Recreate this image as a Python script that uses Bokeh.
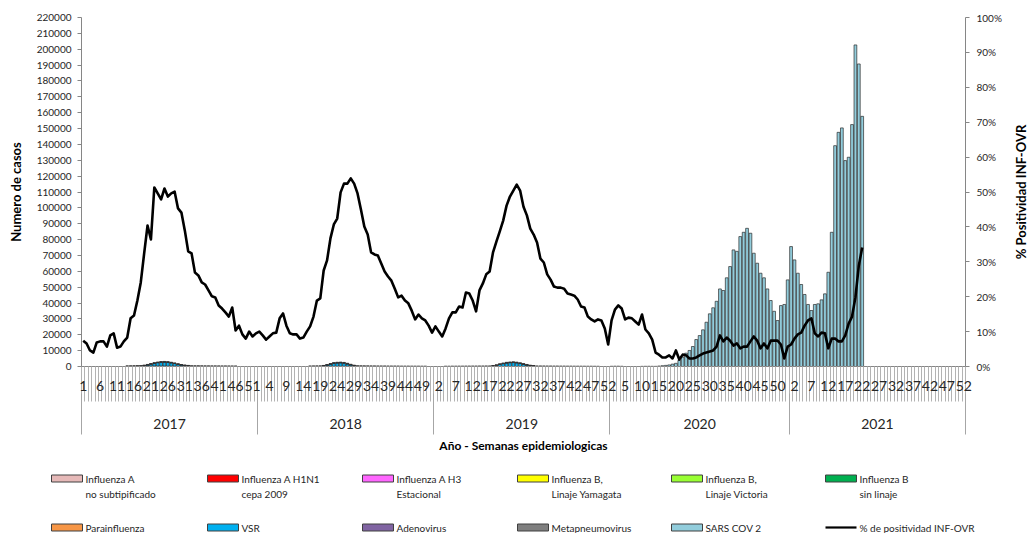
import numpy as np
from bokeh.plotting import figure
from bokeh.models import (Range1d, LinearAxis, FixedTicker, NumeralTickFormatter, PrintfTickFormatter)
from bokeh.layouts import column, row
from bokeh.embed import file_html
from bokeh.resources import INLINE
from bokeh.core.properties import value

# ---------------- data ----------------
years = ["2017", "2018", "2019", "2020", "2021"]
weeks_per_year = [52, 52, 52, 53, 52]

# % de positividad INF-OVR (weekly)
positividad_2017 = [7.4, 6.6, 4.6, 4.0, 6.9, 7.2, 7.2, 5.7, 8.9, 9.5, 5.4, 5.7, 7.2, 8.3, 13.8, 14.6, 18.9, 24.1,
                    32.4, 40.4, 36.4, 51.3, 49.6, 47.9, 51.0, 48.7, 49.6, 50.1, 45.3, 44.1, 39.0, 33.0, 32.4, 26.9,
                    26.1, 24.1, 23.5, 21.8, 20.1, 19.8, 17.5, 16.6, 15.5, 14.3, 16.9, 10.3, 11.7, 9.2, 8.0, 10.0,
                    8.6, 9.5]
positividad_2018 = [10.0, 8.9, 7.7, 8.6, 9.5, 9.7, 13.8, 15.2, 11.7, 9.5, 9.2, 9.2, 8.0, 8.3, 10.0, 11.5, 14.3,
                    18.9, 19.5, 27.5, 30.4, 36.7, 40.7, 42.4, 49.9, 52.4, 52.4, 53.9, 52.4, 49.6, 45.0, 40.1, 37.8,
                    32.7, 32.1, 31.8, 29.5, 27.2, 25.8, 24.6, 22.3, 19.8, 20.3, 18.9, 18.1, 16.0, 13.5, 14.9, 13.8,
                    13.2, 11.7, 9.7]
positividad_2019 = [11.5, 10.0, 8.6, 10.9, 13.8, 15.5, 15.5, 17.2, 16.9, 21.2, 20.9, 18.9, 15.8, 21.8, 23.8, 26.4,
                    27.2, 32.7, 35.8, 38.7, 41.8, 46.1, 48.7, 50.4, 52.1, 50.4, 45.8, 43.3, 39.5, 37.8, 35.5, 30.9,
                    29.8, 26.4, 24.9, 22.9, 22.6, 22.6, 22.3, 20.9, 20.6, 20.3, 19.2, 17.2, 16.9, 14.3, 13.5, 12.9,
                    13.5, 13.2, 10.9, 6.3]
positividad_2020 = [13.2, 16.3, 17.5, 16.6, 13.5, 14.0, 13.8, 12.9, 12.0, 14.9, 10.6, 9.5, 7.7, 4.0, 3.4, 2.6, 2.6,
                    3.2, 2.3, 4.6, 2.0, 3.4, 3.2, 2.3, 2.3, 2.6, 3.2, 3.7, 4.0, 4.3, 4.6, 5.7, 8.9, 7.2, 8.3, 7.4,
                    6.0, 6.6, 5.2, 5.7, 5.7, 7.2, 8.6, 7.4, 5.2, 6.6, 5.2, 7.4, 7.4, 7.4, 6.3, 2.3, 5.7]
positividad_2021 = [6.3, 8.0, 9.2, 9.7, 11.7, 13.2, 13.8, 9.5, 8.6, 9.7, 9.5, 5.2, 8.0, 8.0, 7.2, 7.2, 8.9, 12.3,
                    14.3, 19.8, 28.9, 34.1]

# SARS COV 2 cases, from 2020 week 15
sars_cov2_2020_21 = [300, 500, 700, 1000, 1500, 2000, 3800, 5900, 8400, 10100, 12600, 17000, 19500, 23100, 27900,
                     33200, 37000, 41100, 48900, 47900, 55900, 63000, 73500, 72600, 81900, 84600, 87100, 84000,
                     71400, 65100, 58800, 55900, 48900, 41600, 34800, 29000, 38400, 39100, 54600, 75600, 67200,
                     58800, 51700, 45400, 39100, 35300, 39100, 39500, 42000, 45800, 59400, 84600, 139200, 147600,
                     150400, 129800, 131900, 152500, 202700, 190700, 157700]

# VSR seasonal cases
vsr_2017 = [300, 700, 1200, 1700, 2100, 2400, 2500, 2400, 2100, 1700, 1200, 800, 500, 300]      # from week 19
vsr_2018 = [300, 800, 1400, 1900, 2100, 2200, 2000, 1500, 900, 400]                                # from week 20
vsr_2019 = [300, 700, 1300, 1800, 2200, 2400, 2500, 2300, 1900, 1400, 900, 500, 300]              # from week 18

# small counts of other viruses
metapneumovirus_2017 = [80, 100, 120, 150, 180, 200, 220, 250, 260, 280, 300, 300, 280, 260, 240, 220, 200, 180,
                        160, 150, 140, 120, 110, 100, 100, 90, 80, 80, 70, 70, 60, 60, 50]          # from week 14
metapneumovirus_2018 = [60, 80, 100, 120, 150, 180, 220, 260, 300, 320, 320, 300, 280, 250, 220, 200, 180, 160,
                        140, 120, 100, 90, 80, 80, 70, 70, 60, 60, 50, 50, 50, 40, 40, 40, 30]     # from week 16
metapneumovirus_2019 = [40, 40, 50, 50, 60, 60, 70, 80, 90, 100, 110, 120, 140, 160, 180, 200, 230, 260, 290, 310,
                        320, 320, 300, 280, 260, 230, 200, 180, 160, 140, 120, 110, 100, 90, 80, 80, 70, 70, 60,
                        60, 50, 50, 40, 40, 40, 30]                                                   # from week 4
metapneumovirus_2020 = [150, 200, 200, 150]                                                           # from week 1
adenovirus_2017 = [100, 100, 120, 120, 140, 150, 150, 160, 160, 150, 150, 140, 140, 130, 130, 120, 120, 110, 110,
                   100, 100, 100, 90, 90, 90, 80, 80, 80, 70, 70, 70, 60, 60]                         # from week 14
adenovirus_2018 = [80, 90, 100, 110, 120, 130, 140, 150, 150, 150, 140, 140, 130, 120, 110, 100, 100, 90, 90, 80,
                   80, 70, 70, 70, 60, 60, 60, 50, 50, 50, 40, 40, 40, 30, 30]                        # from week 16
adenovirus_2019 = [60, 60, 70, 70, 80, 80, 90, 90, 100, 100, 110, 110, 120, 120, 130, 130, 140, 140, 150, 150, 150,
                   150, 140, 140, 130, 130, 120, 120, 110, 110, 100, 100, 90, 90, 80, 80, 70, 70, 60, 60, 60, 50,
                   50, 50, 40, 40]                                                                    # from week 4
adenovirus_2020 = [100, 120, 150, 120, 100]                                                           # from week 10
parainfluenza_2017 = [60, 70, 80, 90, 100, 110, 120, 130, 140, 150, 150, 150, 140, 130, 120, 110, 100, 100, 90, 90,
                      80, 80, 70, 70, 60, 60, 60, 50, 50, 50, 40, 40, 40]                             # from week 14
parainfluenza_2018 = [50, 60, 70, 80, 90, 100, 110, 120, 130, 130, 120, 110, 100, 90, 80, 70, 60, 60, 50, 50, 40,
                      40, 40, 30, 30, 30, 30, 20, 20, 20, 20, 20, 20, 20, 20]                         # from week 16
influenza_a_2017 = [20, 30, 40, 60, 80, 100, 120, 140, 150, 150, 140, 120, 100, 80, 60, 50, 40, 30, 30, 20, 20, 20,
                    20, 10, 10, 10, 10, 10, 10, 10, 10, 10, 10]                                       # from week 14

# ---------------- helpers ----------------
N = sum(weeks_per_year)
year_starts = np.cumsum([0] + weeks_per_year[:-1])


def week_index(year, week):
    return int(year_starts[years.index(year)]) + week - 1


def build(*segments):
    arr = np.zeros(N)
    for year, week, vals in segments:
        s = week_index(year, week)
        arr[s:s + len(vals)] = vals
    return arr


zero = np.zeros(N)
bar_series = [
    (("Influenza A", "no subtipificado"), build(("2017", 14, influenza_a_2017)), "#E6B9B8"),
    (("Influenza A H1N1", "cepa 2009"), zero, "#FF0000"),
    ((" Influenza A H3", "Estacional"), zero, "#FF66FF"),
    (("Influenza B,", "Linaje Yamagata"), zero, "#FFFF00"),
    (("Influenza B,", "Linaje Victoria"), zero, "#99FF33"),
    (("Influenza B", "sin linaje"), zero, "#00B050"),
    (("Parainfluenza",), build(("2017", 14, parainfluenza_2017), ("2018", 16, parainfluenza_2018)), "#F79646"),
    (("VSR",), build(("2017", 19, vsr_2017), ("2018", 20, vsr_2018), ("2019", 18, vsr_2019)), "#00B0F0"),
    (("Adenovirus",), build(("2017", 14, adenovirus_2017), ("2018", 16, adenovirus_2018),
                            ("2019", 4, adenovirus_2019), ("2020", 10, adenovirus_2020)), "#8064A2"),
    (("Metapneumovirus",), build(("2017", 14, metapneumovirus_2017), ("2018", 16, metapneumovirus_2018),
                                 ("2019", 4, metapneumovirus_2019), ("2020", 1, metapneumovirus_2020)), "#7F7F7F"),
    (("SARS COV 2",), build(("2020", 15, sars_cov2_2020_21)), "#92CDDC"),
]
positividad = np.array(positividad_2017 + positividad_2018 + positividad_2019 + positividad_2020 + positividad_2021)

# ---------------- layout constants (pixels) ----------------
W, H = 1028, 533
H1 = 457                 # main chart block height
TITLE_W = 23             # narrow block holding the right axis title
LEFT, RIGHT, TOP = 81, 965, 17
ZERO_PX = 366
YMAX = 220000
PCT_MAX = 100
FONT = "Lato"
TXT = "#262626"
AXC = "#868686"


def style_axis(ax, standoff):
    ax.major_label_text_font = FONT
    ax.major_label_text_font_size = "10px"
    ax.major_label_text_color = TXT
    ax.major_label_standoff = standoff
    ax.major_tick_out = 4
    ax.major_tick_in = 0
    ax.minor_tick_out = 0
    ax.minor_tick_in = 0
    ax.axis_line_color = AXC
    ax.major_tick_line_color = AXC


def bare(fig):
    fig.grid.visible = False
    fig.outline_line_color = None
    fig.background_fill_color = "white"
    fig.border_fill_color = "white"
    if "frame_align" in fig.properties():
        fig.frame_align = False


# ---------------- main figure ----------------
PW = W - TITLE_W
p = figure(width=PW, height=H1, x_range=Range1d(0, N), y_range=Range1d(0, YMAX),
           output_backend="svg", toolbar_location=None, x_axis_location=None,
           min_border_left=LEFT, min_border_right=PW - RIGHT, min_border_top=TOP,
           min_border_bottom=H1 - ZERO_PX)
bare(p)

ya = p.yaxis[0]
ya.ticker = FixedTicker(ticks=list(range(0, YMAX + 1, 10000)))
ya.formatter = NumeralTickFormatter(format="0")
style_axis(ya, 6)
ya.axis_label = "Numero de casos"
ya.axis_label_text_font = FONT
ya.axis_label_text_font_style = "bold"
ya.axis_label_text_font_size = "13px"
ya.axis_label_text_color = "black"
ya.axis_label_standoff = 10

p.extra_y_ranges = {"pct": Range1d(0, PCT_MAX)}
ra = LinearAxis(y_range_name="pct", ticker=FixedTicker(ticks=list(range(0, 101, 10))),
                formatter=PrintfTickFormatter(format="%d%%"))
style_axis(ra, 7)
p.add_layout(ra, "right")

# category axis (weeks): labels every 5 weeks, tick marks between every week
week_labels = {}
for yi, y in enumerate(years):
    for w in range(1, weeks_per_year[yi] + 1):
        i = week_index(y, w)
        if i % 5 == 0:
            week_labels[float(i + 0.5)] = str(w)
wk_ax = LinearAxis(ticker=FixedTicker(ticks=list(week_labels.keys()), minor_ticks=[float(k) for k in range(N + 1)]),
                   major_label_overrides=week_labels)
wk_ax.major_tick_out = 0
wk_ax.major_tick_in = 0
wk_ax.minor_tick_in = 0
wk_ax.minor_tick_out = 35
wk_ax.minor_tick_line_color = "#B3B3B3"
wk_ax.axis_line_color = AXC
wk_ax.major_label_standoff = -21
wk_ax.major_label_text_font = FONT
wk_ax.major_label_text_font_size = "14px"
wk_ax.major_label_text_color = TXT
p.add_layout(wk_ax, "below")

# year level of the category axis
bounds = [float(b) for b in np.concatenate([year_starts, [N]])]
year_labels = {float((bounds[k] + bounds[k + 1]) / 2): years[k] for k in range(len(years))}
yr_ax = LinearAxis(ticker=FixedTicker(ticks=list(year_labels.keys()), minor_ticks=bounds),
                   major_label_overrides=year_labels, axis_label="Año - Semanas epidemiologicas")
yr_ax.axis_line_color = None
yr_ax.major_tick_out = 0
yr_ax.major_tick_in = 0
yr_ax.minor_tick_in = 0
yr_ax.minor_tick_out = 41
yr_ax.minor_tick_line_color = "#A6A6A6"
yr_ax.major_label_standoff = -16
yr_ax.major_label_text_font = FONT
yr_ax.major_label_text_font_size = "14px"
yr_ax.major_label_text_color = TXT
yr_ax.axis_label_standoff = 6
yr_ax.axis_label_text_font = FONT
yr_ax.axis_label_text_font_style = "bold"
yr_ax.axis_label_text_font_size = "12px"
yr_ax.axis_label_text_color = "black"
p.add_layout(yr_ax, "below")

# stacked bars
xc = np.arange(N) + 0.5
bottom = np.zeros(N)
for label, vals, color in bar_series:
    m = vals > 0
    if m.any():
        p.vbar(x=xc[m], width=0.82, bottom=bottom[m], top=(bottom + vals)[m], fill_color=color,
               line_color="#2B2B2B", line_width=0.7)
    bottom = bottom + vals

# positivity line
p.line(x=xc[:len(positividad)], y=positividad, y_range_name="pct", line_color="black", line_width=2.6,
       line_join="round")

# ---------------- right axis title block ----------------
r = figure(width=TITLE_W, height=H1, x_range=Range1d(0, TITLE_W), y_range=Range1d(H1, 0), output_backend="svg",
           toolbar_location=None, x_axis_location=None, y_axis_location=None,
           min_border_left=0, min_border_right=0, min_border_top=0, min_border_bottom=0)
bare(r)
r.text(x=[1020 - PW], y=[(TOP + ZERO_PX) / 2], text=["% Positividad INF-OVR"], angle=np.pi / 2,
       text_font=value(FONT), text_font_style="bold", text_font_size="13px", text_align="center",
       text_baseline="middle", text_color="black")

# ---------------- legend block ----------------
H2 = H - H1
q = figure(width=W, height=H2, x_range=Range1d(0, W), y_range=Range1d(H2, 0), output_backend="svg",
           toolbar_location=None, x_axis_location=None, y_axis_location=None,
           min_border_left=0, min_border_right=0, min_border_top=0, min_border_bottom=0)
bare(q)

col_x = [51, 207, 362, 517, 671, 825]
row_y = [478 - H1, 527 - H1]
items = [(s[0], s[2]) for s in bar_series] + [(("% de positividad INF-OVR",), None)]
for k, (label, color) in enumerate(items):
    rr, c = divmod(k, 6)
    x0 = col_x[c]
    yc = row_y[rr]
    if color is None:
        q.segment(x0=[x0], y0=[yc], x1=[x0 + 31], y1=[yc], line_color="black", line_width=2.2)
    else:
        q.quad(left=[x0], right=[x0 + 31], top=[yc - 3.5], bottom=[yc + 3.5], fill_color=color,
               line_color="#404040", line_width=1)
    for li, line in enumerate(label):
        q.text(x=[x0 + 34], y=[yc + li * 15.5], text=[line], text_font=value(FONT), text_font_size="10px",
               text_align="left", text_baseline="middle", text_color=TXT)

layout = column(row(p, r, spacing=0), q, spacing=0)
open("out.html", "w").write(file_html(layout, INLINE))
